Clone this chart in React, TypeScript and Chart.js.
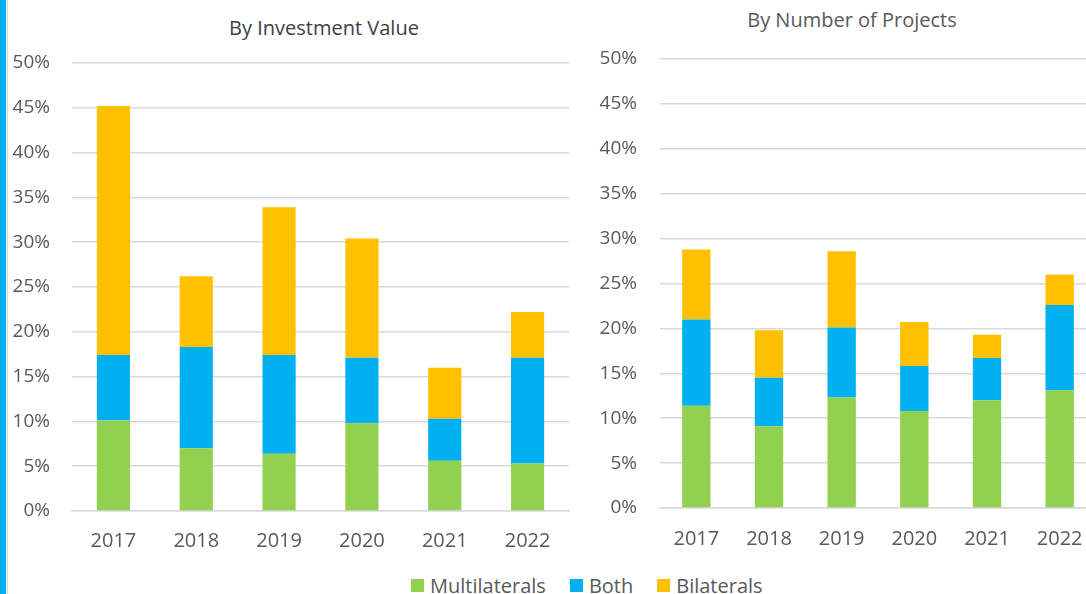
import React, { useEffect, useRef } from 'react';
import { Chart, registerables } from 'chart.js';

Chart.register(...registerables);

// ---- data ----
const years = ['2017', '2018', '2019', '2020', '2021', '2022'];
const seriesNames = ['Multilaterals', 'Both', 'Bilaterals'];
const seriesColors = ['#92D050', '#00B0F0', '#FFC000'];

const invMultilaterals = [10.1, 7.0, 6.4, 9.8, 5.6, 5.3];
const invBoth = [7.3, 11.3, 11.0, 7.3, 4.7, 11.8];
const invBilaterals = [27.8, 7.9, 16.5, 13.3, 5.7, 5.1];

const projMultilaterals = [11.4, 9.1, 12.3, 10.8, 12.0, 13.1];
const projBoth = [9.6, 5.4, 7.8, 5.0, 4.7, 9.5];
const projBilaterals = [7.8, 5.3, 8.5, 4.9, 2.6, 3.4];

const yMax = 50;
const yStep = 5;

const titleLeft = 'By Investment Value';
const titleRight = 'By Number of Projects';

const FONT = "'Open Sans', 'DejaVu Sans', sans-serif";
const TEXT = '#595959';

type PanelProps = {
  series: number[][];
  left: number;
  top: number;
  width: number;
  height: number;
  yAxisWidth: number;
  xAxisHeight: number;
  padTop: number;
  padRight: number;
  yPad: number;
  xPad: number;
  catPct: number;
};

function Panel(p: PanelProps) {
  const ref = useRef<HTMLCanvasElement | null>(null);
  useEffect(() => {
    if (!ref.current) return;
    const chart = new Chart(ref.current, {
      type: 'bar',
      data: {
        labels: years,
        datasets: seriesNames.map((name, i) => ({
          label: name,
          data: p.series[i],
          backgroundColor: seriesColors[i],
          borderWidth: 0,
          barPercentage: 1,
          categoryPercentage: p.catPct,
        })),
      },
      options: {
        animation: false,
        responsive: false,
        maintainAspectRatio: false,
        layout: { padding: { top: p.padTop, right: p.padRight, left: 0, bottom: 0 } },
        plugins: {
          legend: { display: false },
          title: { display: false },
          tooltip: { enabled: false },
        },
        scales: {
          x: {
            stacked: true,
            grid: { display: false, drawTicks: false },
            border: { display: true, color: '#d9d9d9', width: 1.5 },
            ticks: { color: TEXT, font: { family: FONT, size: 20 }, padding: p.xPad, maxRotation: 0 },
            afterFit: (s: any) => {
              s.height = p.xAxisHeight;
              s.paddingLeft = 0;
              s.paddingRight = 0;
            },
          },
          y: {
            stacked: true,
            min: 0,
            max: yMax,
            grid: { color: '#d9d9d9', lineWidth: 1.5, drawTicks: false },
            border: { display: false },
            ticks: {
              stepSize: yStep,
              color: TEXT,
              font: { family: FONT, size: 19 },
              padding: p.yPad,
              callback: (v: any) => v + '%',
            },
            afterFit: (s: any) => {
              s.width = p.yAxisWidth;
              s.paddingTop = 0;
              s.paddingBottom = 0;
            },
          },
        },
      },
    });
    return () => chart.destroy();
  }, []);
  return (
    <canvas
      ref={ref}
      width={p.width}
      height={p.height}
      style={{ position: 'absolute', left: p.left, top: p.top, width: p.width, height: p.height }}
    />
  );
}

export default function App() {
  return (
    <div
      style={{
        position: 'absolute',
        left: 0,
        top: 0,
        width: 1086,
        height: 594,
        overflow: 'hidden',
        background: '#ffffff',
        fontFamily: FONT,
        color: TEXT,
      }}
    >
      <div style={{ position: 'absolute', left: 0, top: 0, width: 6, height: 594, background: '#00B0F0' }} />
      <div style={{ position: 'absolute', left: 7, top: 0, width: 1, height: 594, background: '#d9d9d9' }} />

      <div
        style={{
          position: 'absolute', left: 324, top: 17, transform: 'translateX(-50%)',
          fontSize: 20, lineHeight: '21px', whiteSpace: 'nowrap', color: '#404040',
        }}
      >
        {titleLeft}
      </div>
      <div
        style={{
          position: 'absolute', left: 852, top: 9, transform: 'translateX(-50%)',
          fontSize: 20, lineHeight: '21px', whiteSpace: 'nowrap', color: TEXT,
        }}
      >
        {titleRight}
      </div>

      <Panel
        series={[invMultilaterals, invBoth, invBilaterals]}
        left={10} top={40} width={560} height={520}
        yAxisWidth={62} xAxisHeight={49} padTop={23} padRight={1}
        yPad={22} xPad={18} catPct={0.4}
      />
      <Panel
        series={[projMultilaterals, projBoth, projBilaterals]}
        left={580} top={40} width={516} height={520}
        yAxisWidth={80} xAxisHeight={52} padTop={19} padRight={0}
        yPad={23} xPad={19} catPct={0.39}
      />

      <div
        style={{
          position: 'absolute', left: 411, top: 575,
          display: 'flex', alignItems: 'center', whiteSpace: 'nowrap',
          fontSize: 20, lineHeight: '21px',
        }}
      >
        {seriesNames.map((n, i) => (
          <div key={n} style={{ display: 'flex', alignItems: 'center', marginRight: i < 2 ? 24 : 0 }}>
            <span style={{ display: 'inline-block', width: 13, height: 13, background: seriesColors[i], marginRight: 6 }} />
            <span>{n}</span>
          </div>
        ))}
      </div>
    </div>
  );
}
